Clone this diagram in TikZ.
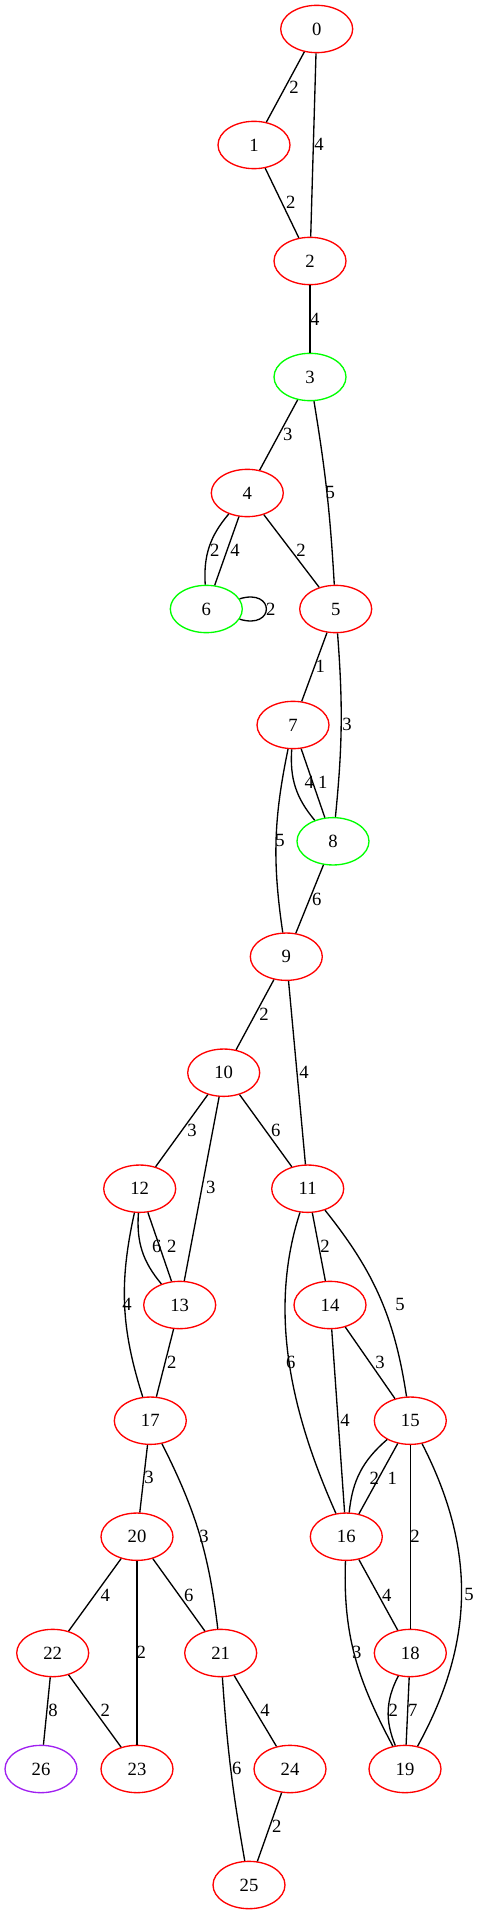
\documentclass[tikz,border=0pt]{standalone}
\usepackage{fontspec}
\setmainfont{Liberation Serif}
\usetikzlibrary{shapes.geometric}
\definecolor{gvgreen}{HTML}{00FF00}
\definecolor{gvred}{HTML}{FF0000}
\definecolor{gvpurple}{HTML}{A020F0}
\begin{document}
\begin{tikzpicture}[x=0.75pt, y=-0.75pt,
 vtx/.style={ellipse, draw=gvred, line width=1pt, minimum width=54pt, minimum height=35.5pt, inner sep=0pt, font=\fontsize{14}{16}\selectfont},
 gv/.style={vtx, draw=gvgreen},
 pv/.style={vtx, draw=gvpurple},
 edg/.style={draw=black, line width=1pt},
 lbl/.style={font=\fontsize{14}{16}\selectfont, inner sep=0pt}]
\useasboundingbox (0,0) rectangle (480,1915);
% nodes
\node[vtx] (n0) at (316.7,29) {0};
\node[vtx] (n1) at (254,145) {1};
\node[vtx] (n2) at (310,261) {2};
\node[gv]  (n3) at (310,377) {3};
\node[vtx] (n4) at (247.3,493) {4};
\node[gv]  (n6) at (206.3,609) {6};
\node[vtx] (n5) at (335.7,609) {5};
\node[vtx] (n7) at (293,725) {7};
\node[gv]  (n8) at (333,841.3) {8};
\node[vtx] (n9) at (286.3,956.7) {9};
\node[vtx] (n10) at (223.7,1072.7) {10};
\node[vtx] (n12) at (139.7,1188.7) {12};
\node[vtx] (n11) at (307.7,1188.7) {11};
\node[vtx] (n13) at (179.7,1305) {13};
\node[vtx] (n14) at (330,1305) {14};
\node[vtx] (n17) at (150.3,1420.7) {17};
\node[vtx] (n15) at (410.3,1420.7) {15};
\node[vtx] (n20) at (137,1536.7) {20};
\node[vtx] (n16) at (346.3,1536.7) {16};
\node[vtx] (n22) at (52.7,1653) {22};
\node[vtx] (n21) at (220.7,1653) {21};
\node[vtx] (n18) at (410.3,1653) {18};
\node[pv]  (n26) at (41,1769) {26};
\node[vtx] (n23) at (137,1769) {23};
\node[vtx] (n24) at (290,1769) {24};
\node[vtx] (n19) at (405,1769) {19};
\node[vtx] (n25) at (249,1885) {25};
% edges
\draw[edg] (n0) -- (n1) node[lbl] at (294,87) {2};
\draw[edg] (n0) -- (n2) node[lbl] at (319,144) {4};
\draw[edg] (n1) -- (n2) node[lbl] at (290.7,202) {2};
\draw[edg] (n2) -- (n3) node[lbl] at (314.7,319) {4};
\draw[edg] (n3) -- (n4) node[lbl] at (287.7,434.3) {3};
\draw[edg] (n3) to[bend left=3] (n5) node[lbl] at (330.3,492.3) {5};
\draw[edg] (n4) to[bend right=22] (n6) node[lbl] at (214.7,550.3) {2};
\draw[edg] (n4) -- (n6) node[lbl] at (235,550.3) {4};
\draw[edg] (n4) -- (n5) node[lbl] at (301,550.3) {2};
\draw[edg] (n6) to[out=17, in=-17, distance=28pt] (n6) node[lbl] at (270.7,609) {2};
\draw[edg] (n5) -- (n7) node[lbl] at (320.3,666.7) {1};
\draw[edg] (n5) to[bend left=5] (n8) node[lbl] at (347,724.3) {3};
\draw[edg] (n7) to[bend right=22] (n8) node[lbl] at (309.3,782.3) {4};
\draw[edg] (n7) -- (n8) node[lbl] at (322.7,782.3) {1};
\draw[edg] (n7) to[bend right=10] (n9) node[lbl] at (280,840.7) {5};
\draw[edg] (n8) -- (n9) node[lbl] at (316.7,899) {6};
\draw[edg] (n9) -- (n10) node[lbl] at (264,1014) {2};
\draw[edg] (n9) -- (n11) node[lbl] at (304,1072.7) {4};
\draw[edg] (n10) -- (n12) node[lbl] at (192,1130.3) {3};
\draw[edg] (n10) -- (n13) node[lbl] at (210.7,1187.7) {3};
\draw[edg] (n10) -- (n11) node[lbl] at (275.7,1130.3) {6};
\draw[edg] (n12) to[bend right=22] (n13) node[lbl] at (156.7,1246.7) {6};
\draw[edg] (n12) -- (n13) node[lbl] at (171.7,1246.7) {2};
\draw[edg] (n12) to[bend right=15] (n17) node[lbl] at (127,1304.7) {4};
\draw[edg] (n13) -- (n17) node[lbl] at (171.7,1362.3) {2};
\draw[edg] (n11) -- (n14) node[lbl] at (325,1246.7) {2};
\draw[edg] (n11) to[bend left=15] (n15) node[lbl] at (400,1304.3) {5};
\draw[edg] (n11) to[out=-108, in=114, looseness=0.9] (n16) node[lbl] at (290.7,1362.3) {6};
\draw[edg] (n14) -- (n15) node[lbl] at (380,1362.3) {3};
\draw[edg] (n14) -- (n16) node[lbl] at (345,1420) {4};
\draw[edg] (n15) to[bend right=22] (n16) node[lbl] at (374.3,1478.3) {2};
\draw[edg] (n15) -- (n16) node[lbl] at (392.3,1478.3) {1};
\draw[edg] (n15) -- (n18) node[lbl] at (415,1536) {2};
\draw[edg] (n15) to[bend left=28] (n19) node[lbl] at (469,1594.3) {5};
\draw[edg] (n17) -- (n20) node[lbl] at (149,1477.7) {3};
\draw[edg] (n17) to[bend left=10] (n21) node[lbl] at (204,1536.3) {3};
\draw[edg] (n20) -- (n22) node[lbl] at (105.3,1595) {4};
\draw[edg] (n20) -- (n23) node[lbl] at (141.3,1652.7) {2};
\draw[edg] (n20) -- (n21) node[lbl] at (188.7,1595) {6};
\draw[edg] (n16) -- (n18) node[lbl] at (386.7,1595) {4};
\draw[edg] (n16) to[out=-92, in=118] (n19) node[lbl] at (356.7,1652.3) {3};
\draw[edg] (n18) to[bend right=25] (n19) node[lbl] at (393.3,1710.7) {2};
\draw[edg] (n18) -- (n19) node[lbl] at (412.7,1710.7) {7};
\draw[edg] (n22) -- (n26) node[lbl] at (53,1710.7) {8};
\draw[edg] (n22) -- (n23) node[lbl] at (105.3,1710.7) {2};
\draw[edg] (n21) -- (n24) node[lbl] at (265,1710.7) {4};
\draw[edg] (n21) to[bend right=3] (n25) node[lbl] at (236.7,1768.3) {6};
\draw[edg] (n24) -- (n25) node[lbl] at (276.7,1826.7) {2};
\end{tikzpicture}
\end{document}
